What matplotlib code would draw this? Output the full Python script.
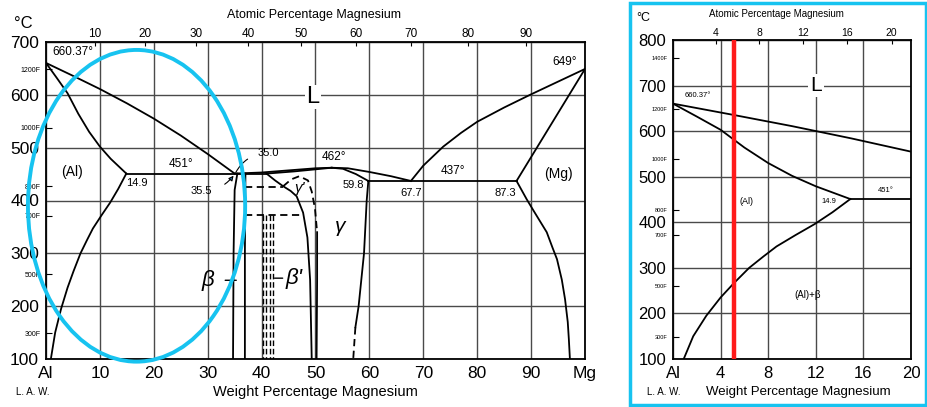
import matplotlib
matplotlib.use("Agg")
import matplotlib.pyplot as plt
from matplotlib.patches import Ellipse, Rectangle
import numpy as np

plt.rcParams['font.family'] = ['Liberation Sans', 'DejaVu Sans']

# ---- phase boundaries (weight % Mg, deg C) ----
liq_al_wt = [0, 5, 10, 15, 20, 25, 30, 35.0]
liq_al_T = [660.37, 636, 611, 584, 555, 523, 488, 451]
sol_al_wt = [0, 2, 4, 6, 8, 10, 12, 14.9]
sol_al_T = [660.37, 632, 603, 564, 530, 502, 479, 451]
solv_al_wt = [0.9, 1.7, 2.8, 4.0, 5.1, 6.4, 7.6, 8.7, 10.3, 11.9, 13.4, 14.9]
solv_al_T = [100, 150, 195, 235, 266, 300, 325, 347, 372, 396, 422, 451]
eut1_wt = [14.9, 41.0]
eut1_T = [451, 451]

beta_l_wt = [35.5, 35.0, 34.8, 34.7]
beta_l_T = [451, 420, 300, 100]
beta_r_wt = [37.0, 36.9, 36.9]
beta_r_T = [451, 300, 100]

gam_liq_wt = [35.0, 40, 45, 50, 53, 56, 60, 64, 67.7]
gam_liq_T = [451, 453, 457, 461, 462, 461, 454, 446, 437]
gam_sol_l_wt = [41.0, 46, 50, 53]
gam_sol_l_T = [451, 455, 459, 462]
gam_sol_r_wt = [53, 55.1, 57.5, 59.8]
gam_sol_r_T = [462, 460, 450, 437]
gam_left_wt = [40.9, 42.5, 44.0, 45.4, 46.5, 47.7, 48.5, 49.0, 49.3]
gam_left_T = [451, 438, 427, 418, 408, 377, 330, 250, 100]
gam_right_wt = [59.8, 59.5, 59.0, 58.0, 57.4]
gam_right_T = [437, 400, 300, 200, 160]
gam_right_low_wt = [57.4, 57.0]
gam_right_low_T = [160, 100]

gp_wt = [44.0, 45.5, 47.0, 48.6, 49.3, 49.9, 50.3]
gp_T = [427, 440, 446, 438, 417, 385, 340]
gp_low_wt = [50.3, 50.3, 50.2]
gp_low_T = [340, 250, 100]

dash1_wt = [36.9, 44.0]
dash1_T = [425, 425]
dash2_wt = [36.9, 47.7]
dash2_T = [372, 372]
bprime_wt = [40.2, 40.9, 41.6, 42.1]
bprime_T = [372, 100]

eut2_wt = [59.8, 87.3]
eut2_T = [437, 437]
liq_mg_wt = [67.7, 70, 73.7, 77, 80, 85, 89.8, 95, 100]
liq_mg_T = [437, 466, 502, 528, 549, 576, 600, 625, 649]
sol_mg_wt = [87.3, 100]
sol_mg_T = [437, 649]
solv_mg_wt = [87.3, 89.2, 90.5, 92.0, 92.9, 94.0, 94.8, 95.7, 96.3, 96.8, 97.0, 97.2]
solv_mg_T = [437, 402, 380, 355, 340, 310, 289, 250, 213, 170, 138, 100]

red_wt = 5.1

c_ticks = [100, 200, 300, 400, 500, 600, 700]
f_vals = [300, 500, 700, 800, 1000, 1200]
f_vals_inset = [300, 500, 700, 800, 1000, 1200, 1400]
wt_ticks = [0, 10, 20, 30, 40, 50, 60, 70, 80, 90, 100]
wt_labels = ['Al', '10', '20', '30', '40', '50', '60', '70', '80', '90', 'Mg']
at_ticks = [10, 20, 30, 40, 50, 60, 70, 80, 90]
inset_wt_ticks = [0, 4, 8, 12, 16, 20]
inset_wt_labels = ['Al', '4', '8', '12', '16', '20']
inset_c_ticks = [100, 200, 300, 400, 500, 600, 700, 800]
inset_at_ticks = [4, 8, 12, 16, 20]


def wt2at(w):
    w = np.asarray(w, dtype=float)
    a = w / 24.305
    b = (100 - w) / 26.982
    return 100 * a / (a + b)


def at2wt(x):
    x = np.asarray(x, dtype=float)
    a = x * 24.305
    b = (100 - x) * 26.982
    return 100 * a / (a + b)


def f2c(f):
    return (np.asarray(f, dtype=float) - 32) * 5 / 9


W, H = 928, 407
fig = plt.figure(figsize=(W / 100, H / 100), dpi=100)
grid_c = '#4a4a4a'
lw = 1.3


def setup(ax, xlim, ylim, xt, xl, yt, fv, at_t, fs_tick, fs_f, fs_at):
    ax.set_xlim(*xlim)
    ax.set_ylim(*ylim)
    ax.set_xticks(xt, xl, fontsize=fs_tick)
    ax.set_yticks(yt, [str(v) for v in yt], fontsize=fs_tick)
    ax.set_yticks(f2c(fv), labels=[f'{v}F' for v in fv], minor=True)
    ax.tick_params(axis='y', which='minor', direction='in', length=4,
                   labelsize=fs_f, pad=4, width=0.8)
    ax.tick_params(axis='both', which='major', length=0, pad=5)
    ax.grid(True, color=grid_c, lw=1.0)
    ax.set_axisbelow(True)
    for s in ax.spines.values():
        s.set_linewidth(1.3)
    sec = ax.secondary_xaxis('top', functions=(wt2at, at2wt))
    sec.set_xticks(at_t)
    sec.tick_params(direction='in', length=3, labelsize=fs_at, pad=1.5)
    return sec


# ---------------- main diagram ----------------
ax = fig.add_axes([46 / W, (H - 359) / H, (585 - 46) / W, (359 - 42) / H])
setup(ax, (0, 100), (100, 700), wt_ticks, wt_labels, c_ticks, f_vals,
      at_ticks, 12.5, 5, 8.5)

k = dict(color='black', lw=lw)
kd = dict(color='black', lw=1.3, ls=(0, (4, 2.5)))
ax.plot(liq_al_wt, liq_al_T, **k)
ax.plot(sol_al_wt, sol_al_T, **k)
ax.plot(solv_al_wt, solv_al_T, **k)
ax.plot(eut1_wt, eut1_T, **k)
ax.plot(beta_l_wt, beta_l_T, **k)
ax.plot(beta_r_wt, beta_r_T, **k)
ax.plot(gam_liq_wt, gam_liq_T, **k)
ax.plot(gam_sol_l_wt, gam_sol_l_T, **k)
ax.plot(gam_sol_r_wt, gam_sol_r_T, **k)
ax.plot(gam_left_wt, gam_left_T, **k)
ax.plot(gam_right_wt, gam_right_T, **k)
ax.plot(gam_right_low_wt, gam_right_low_T, **kd)
ax.plot(gp_wt, gp_T, **kd)
ax.plot(gp_low_wt, gp_low_T, **k)
ax.plot(dash1_wt, dash1_T, **kd)
ax.plot(dash2_wt, dash2_T, **kd)
for x in bprime_wt:
    ax.plot([x, x], bprime_T, color='black', lw=1.0, ls=(0, (4, 2)))
ax.plot(eut2_wt, eut2_T, **k)
ax.plot(liq_mg_wt, liq_mg_T, **k)
ax.plot(sol_mg_wt, sol_mg_T, **k)
ax.plot(solv_mg_wt, solv_mg_T, **k)

txt = dict(ha='center', va='center', color='black')
ax.text(1.2, 682, '660.37°', fontsize=8.5, ha='left', va='center')
ax.text(98.5, 663, '649°', fontsize=8.5, ha='right', va='center')
ax.text(49.5, 596, 'L', fontsize=17, bbox=dict(fc='white', ec='none', pad=1), **txt)
ax.text(4.8, 453, '(Al)', fontsize=10, **txt)
ax.text(95.0, 450, '(Mg)', fontsize=10, **txt)
ax.text(16.9, 434, '14.9', fontsize=8, **txt)
ax.text(25.1, 470, '451°', fontsize=8.5, **txt)
ax.text(53.4, 483, '462°', fontsize=8.5, **txt)
ax.text(57.0, 430, '59.8', fontsize=8, **txt)
ax.text(67.7, 415, '67.7', fontsize=8, **txt)
ax.text(75.5, 455, '437°', fontsize=8.5, **txt)
ax.text(85.3, 415, '87.3', fontsize=8, **txt)
ax.text(47.0, 424, "γ'", fontsize=11, style='italic', **txt)
ax.text(54.5, 351, 'γ', fontsize=15, style='italic', **txt)
ax.annotate('35.0', xy=(35.2, 453), xytext=(41.3, 489), fontsize=8, ha='center', va='center',
            arrowprops=dict(arrowstyle='-', lw=0.8, connectionstyle='arc3,rad=0.3',
                            shrinkA=6, shrinkB=0))
ax.annotate('35.5', xy=(34.8, 447), xytext=(28.8, 418), fontsize=8, ha='center', va='center',
            arrowprops=dict(arrowstyle='-|>', lw=0.8, mutation_scale=7,
                            connectionstyle='arc3,rad=0.25', shrinkA=8, shrinkB=0))
ax.annotate('β', xy=(35.3, 249), xytext=(30.0, 249), fontsize=16, style='italic',
            ha='center', va='center',
            arrowprops=dict(arrowstyle='-', lw=1.0, shrinkA=6, shrinkB=0))
ax.annotate("β'", xy=(42.4, 253), xytext=(46.0, 253), fontsize=16, style='italic',
            ha='center', va='center',
            arrowprops=dict(arrowstyle='-', lw=1.0, shrinkA=9, shrinkB=0))

ax.add_patch(Ellipse((16.8, 390), 40.3, 590, fill=False, ec='#17c3f0', lw=2.8,
                     clip_on=False, zorder=5))

fig.text(23 / W, 1 - 23 / H, '°C', fontsize=12, ha='center', va='center')
fig.text(314 / W, 1 - 15 / H, 'Atomic Percentage Magnesium', fontsize=9,
         ha='center', va='center')
fig.text(33 / W, 1 - 392 / H, 'L. A. W.', fontsize=7, ha='center', va='center')
fig.text(315 / W, 1 - 392 / H, 'Weight Percentage Magnesium', fontsize=10.5,
         ha='center', va='center')

# ---------------- inset (0-20 wt%) ----------------
ai = fig.add_axes([673 / W, (H - 359) / H, (911 - 673) / W, (359 - 40) / H])
setup(ai, (0, 20), (100, 800), inset_wt_ticks, inset_wt_labels,
      inset_c_ticks, f_vals_inset, inset_at_ticks, 12, 4, 7.5)
ai.plot(liq_al_wt, liq_al_T, **k)
ai.plot(sol_al_wt, sol_al_T, **k)
ai.plot(solv_al_wt, solv_al_T, **k)
ai.plot(eut1_wt, eut1_T, **k)
ai.axvline(red_wt, color='#ff1a1a', lw=3.2, zorder=4)

ai.text(1.0, 678, '660.37°', fontsize=5.5, ha='left', va='center')
ai.text(12.0, 700, 'L', fontsize=15, bbox=dict(fc='white', ec='none', pad=1.5), **txt)
ai.text(6.2, 445, '(Al)', fontsize=6.5, **txt)
ai.text(13.1, 445, '14.9', fontsize=5.5, **txt)
ai.text(17.9, 469, '451°', fontsize=5.5, **txt)
ai.text(11.3, 241, '(Al)+β', fontsize=7, **txt)

fig.text(643 / W, 1 - 18 / H, '°C', fontsize=9, ha='center', va='center')
fig.text(776 / W, 1 - 14 / H, 'Atomic Percentage Magnesium', fontsize=7,
         ha='center', va='center')
fig.text(664 / W, 1 - 392 / H, 'L. A. W.', fontsize=7, ha='center', va='center')
fig.text(798 / W, 1 - 392 / H, 'Weight Percentage Magnesium', fontsize=9.5,
         ha='center', va='center')

fig.patches.append(Rectangle((630 / W, 2 / H), (926 - 630) / W, (405 - 3) / H,
                             transform=fig.transFigure, fill=False,
                             ec='#17c3f0', lw=2.5))

fig.savefig('out.png', dpi=100)
